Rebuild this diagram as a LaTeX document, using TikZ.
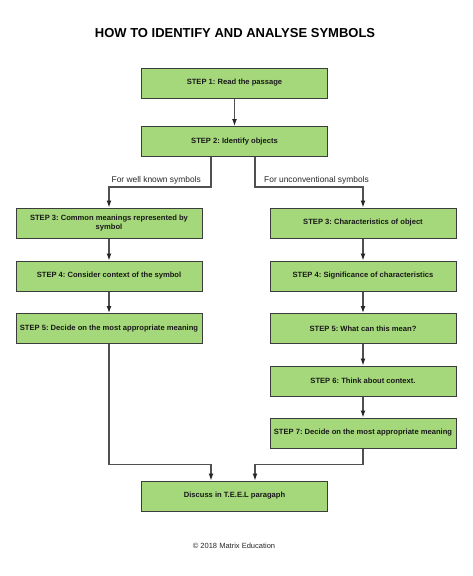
\documentclass[tikz,border=0pt]{standalone}
\usepackage{fontspec}
\setmainfont{Liberation Sans}
\usetikzlibrary{arrows.meta}
\frenchspacing
\definecolor{stepgreen}{HTML}{A5D87A}
\definecolor{stepedge}{HTML}{3C3C3C}
\definecolor{linegray}{HTML}{505050}
\tikzset{
  stepbox/.style={draw=stepedge, line width=1pt, fill=stepgreen,
    minimum width=186pt, minimum height=30pt, inner sep=1pt, align=center,
    text=black!90, font=\fontsize{7.6}{9.3}\selectfont\bfseries},
  conn/.style={draw=linegray, line width=1.2pt,
    -{Latex[length=7pt,width=5pt,color=black!85]}},
  branch/.style={font=\fontsize{8.4}{10}\selectfont, text=black!85, inner sep=1pt}
}
\begin{document}
\begin{tikzpicture}[x=1pt,y=-1pt]
   \useasboundingbox (0,0) rectangle (473,576);
   \node[font=\fontsize{13}{15}\selectfont\bfseries] (title) at (235,33) {HOW TO IDENTIFY AND ANALYSE SYMBOLS};
   % middle column
   \node[stepbox] (s1) at (234.5,83)  {STEP 1: Read the passage};
   \node[stepbox] (s2) at (234.5,141.5) {STEP 2: Identify objects};
   % well known symbols
   \node[stepbox] (l3) at (109,223) {STEP 3: Common meanings represented by\\symbol};
   \node[stepbox] (l4) at (109,276) {STEP 4: Consider context of the symbol};
   \node[stepbox] (l5) at (109,328.5) {STEP 5: Decide on the most appropriate meaning};
   % unconventional symbols
   \node[stepbox] (r3) at (363,223) {STEP 3: Characteristics of object};
   \node[stepbox] (r4) at (363,276) {STEP 4: Significance of characteristics};
   \node[stepbox] (r5) at (363,328.5) {STEP 5: What can this mean?};
   \node[stepbox] (r6) at (363,381) {STEP 6: Think about context.};
   \node[stepbox] (r7) at (363,433) {STEP 7: Decide on the most appropriate meaning};
   \node[stepbox] (teel) at (234.5,496) {Discuss in T.E.E.L paragaph};
   \node[font=\fontsize{7.5}{9}\selectfont, text=black!85] (copy) at (234,546) {© 2018 Matrix Education};
   % connectors
   \draw[conn] (s1) -- (s2);
   \draw[conn] ([xshift=-23.5pt]s2.south) -- ++(0,30) -| (l3.north);
   \draw[conn] ([xshift=20.5pt]s2.south) -- ++(0,30) -| (r3.north);
   \node[branch, anchor=east] (lwell) at (202,180) {For well known symbols};
   \node[branch, anchor=west] (lunc) at (263,180) {For unconventional symbols};
   \draw[conn] (l3) -- (l4);
   \draw[conn] (l4) -- (l5);
   \draw[conn] (r3) -- (r4);
   \draw[conn] (r4) -- (r5);
   \draw[conn] (r5) -- (r6);
   \draw[conn] (r6) -- (r7);
   \draw[conn] (l5.south) |- ([xshift=-23.5pt,yshift=16pt]teel.north) -- ([xshift=-23.5pt]teel.north);
   \draw[conn] (r7.south) |- ([xshift=20.5pt,yshift=16pt]teel.north) -- ([xshift=20.5pt]teel.north);
\end{tikzpicture}
\end{document}
